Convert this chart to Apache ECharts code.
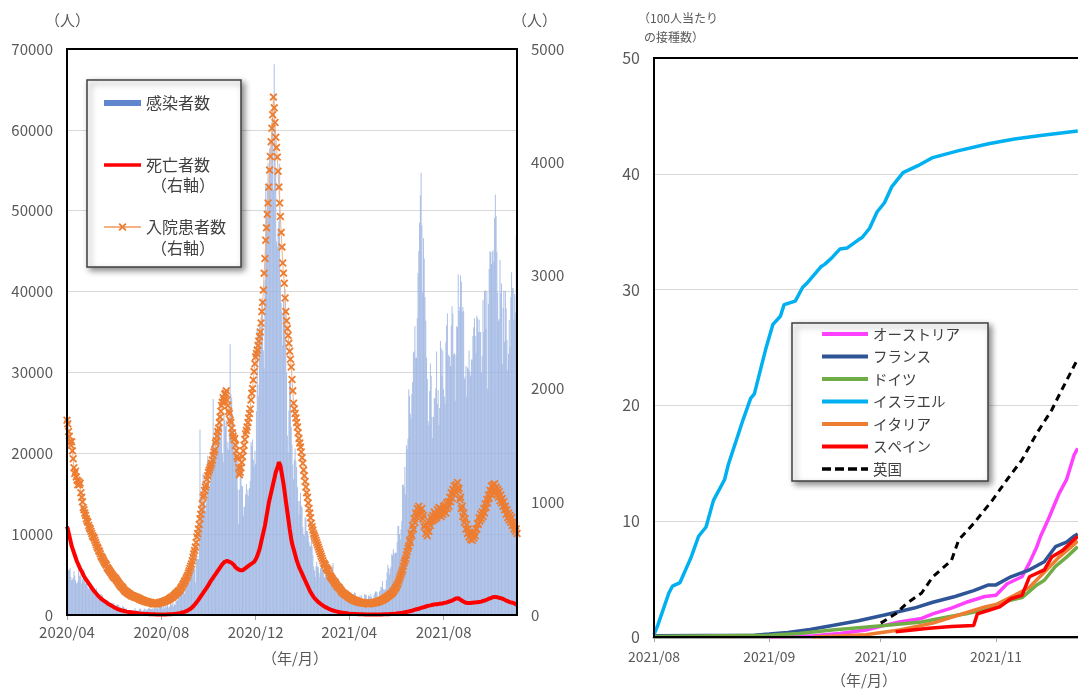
<!DOCTYPE html>
<html>
<head>
<meta charset="utf-8">
<script src="https://cdn.jsdelivr.net/npm/echarts@6/dist/echarts.min.js"></script>
<style>
  html, body { margin: 0; padding: 0; background: #ffffff; }
  #chart { width: 1078px; height: 691px; }
</style>
</head>
<body>
<div id="chart"></div>
<script>
const FONT = '"Noto Sans CJK JP", "Noto Sans", sans-serif';

// ---- Left panel: daily figures starting 2020-04-15 ----
const dailyStart = '2020-04-15';
const dailyEnd = '2021-11-18';
const leftTickDates = ['2020-04-15', '2020-08-15', '2020-12-15', '2021-04-15', '2021-08-15'];

// 感染者数 (left axis)
const newCases = [
  4600,4600,5600,5500,5800,4700,4300,4400,4600,5400,4900,4300,3900,4000,4100,6000,
  4800,5000,4800,3900,4400,4400,5600,4600,3900,3900,3900,3400,3200,3400,3600,3500,3500,3100,2700,3000,2500,2600,3300,2900,2400,2000,2000,2000,2600,2400,2400,
  2000,1600,1900,1800,1800,1600,1300,1200,1400,1000,1300,1500,1400,1500,1100,1300,1100,1200,1300,1300,1200,1000,960,650,650,1100,1000,900,800,700,
  815,580,580,620,520,520,350,630,540,640,500,820,650,530,540,540,600,800,760,650,460,440,580,770,770,560,580,680,770,850,880,
  740,740,740,940,670,950,890,870,760,1060,700,1150,1440,1140,1080,1020,710,1090,810,1180,1040,1030,1290,850,1030,1040,1520,1280,1270,1720,1010,
  1300,1300,1700,1800,1800,2900,2500,2400,2700,3000,3500,3500,3300,2600,3100,3400,3400,4300,4400,3900,4400,4900,6200,6600,6900,6000,5700,4000,7100,7100,
  6900,6900,12900,22900,12600,14500,14200,17500,13900,15200,12900,13900,17200,19700,19000,15600,16200,18800,18800,21300,26700,21300,20500,23000,19800,20900,22900,24700,23100,24400,21900,
  23300,20000,18900,25000,24100,23300,24100,20600,21400,20400,22900,33500,27300,26800,24900,21400,20100,19600,22900,20300,19900,15500,11300,15500,18200,17600,16000,15900,12300,13400,
  13400,14900,16200,14900,15500,14700,15700,16600,21400,20900,21700,19200,18400,20300,18700,25200,35400,28500,27100,35900,33400,36800,39200,39000,32700,30500,41400,53100,50000,53300,55900,
  53300,57700,54900,58800,60900,62300,52600,68100,59900,54900,46200,45500,47500,48700,55800,41300,38600,37500,33400,38900,37900,40300,33600,30000,22200,20100,25300,28700,29100,23300,21100,
  18600,16800,19200,20600,19100,18300,15800,14100,12400,14100,15100,13500,13300,10900,10000,9800,12100,12000,10400,10400,9800,9000,8500,8500,9900,8500,7400,6000,
  5500,4700,6000,6600,6000,5900,5200,4700,5800,6000,6500,5600,5500,4600,4800,5300,6400,6300,4800,5600,5300,5300,4900,6000,6400,4700,3900,4000,4700,4100,4400,
  4500,3400,3800,2300,2800,2400,2900,2800,3000,3200,1700,1900,2600,2500,2700,2600,2400,2000,2500,2600,2400,2800,2700,2000,1700,1900,2100,2200,2400,2000,
  2400,1600,1600,1900,2600,2500,2500,2000,1800,2400,2300,2300,2600,2200,2000,1900,2400,2700,2900,2900,2800,2000,2200,2900,3000,3500,3400,4200,3200,3200,3100,
  3200,4300,5300,6200,5800,5000,5700,6000,7500,7400,8100,7700,7500,7700,7700,9000,11000,11000,10000,9300,10600,11600,16100,16100,15800,18300,14900,21000,20500,21800,
  27900,27100,24900,24200,27300,28800,32500,32600,35700,31800,31800,36700,42300,45000,48500,51900,54700,48200,39900,46600,44100,39300,36400,31800,29200,24000,23500,27700,31100,29600,24500,
  21900,24500,26800,26800,28000,32600,26100,27800,23500,25600,33900,33000,29500,32700,27900,27000,26100,33700,35800,37300,32200,32100,31900,30800,35800,38200,37300,32200,32400,26500,32200,
  35700,35600,42100,37600,38100,42000,41200,37500,38100,37600,29200,29500,30800,27000,30600,30400,32700,30100,29600,31600,31600,34500,35600,36700,34500,32400,37000,36700,35000,36500,
  35000,35000,30000,32000,39000,35000,40000,40200,35400,40000,28000,38500,42800,45000,44900,43400,44900,45100,43700,49100,52000,49300,44900,39900,36400,36600,43900,39800,41000,31000,38000,
  40100,33800,40100,37900,34000,30300,32300,36500,33100,39300,42400,40400,40400,36500,39700,37400,46800,46200
];

// 死亡者数 (right axis)
const deaths = [
  780,760,730,700,670,640,610,590,575,550,530,510,490,470,455,440,
  425,410,400,385,370,355,345,330,320,310,300,290,280,270,260,250,240,230,220,212,205,195,188,180,172,165,158,150,145,140,135,
  130,125,120,115,110,105,100,96,92,88,84,80,76,72,68,64,60,57,54,51,48,46,44,42,40,38,36,35,33,32,
  30,29,28,27,26,25,24,23,22,21,20,19,18,17,16,15,14,13,12,12,11,11,10,10,9,9,8,8,8,7,7,
  7,7,6,6,6,6,5,5,5,5,5,5,5,5,5,5,5,5,5,5,5,6,6,6,6,7,7,7,8,8,8,
  10,10,11,12,13,14,15,16,18,20,22,24,26,28,30,33,36,40,44,48,52,57,62,68,75,82,90,98,107,116,
  125,135,145,155,165,175,185,195,205,215,225,235,245,255,265,278,290,300,310,320,330,340,350,360,370,380,390,400,410,420,430,
  440,450,460,465,470,472,475,478,470,465,470,472,468,460,450,445,440,430,420,415,410,405,400,398,395,400,398,395,400,405,
  410,415,420,425,430,435,440,445,450,455,460,465,470,480,490,505,520,540,560,580,610,640,670,700,730,760,790,830,870,910,950,
  990,1020,1050,1080,1110,1140,1170,1200,1230,1260,1280,1300,1320,1350,1340,1320,1280,1240,1200,1160,1110,1060,1010,960,910,860,810,760,715,670,635,
  610,585,560,535,510,485,465,445,425,410,395,380,365,350,335,320,305,290,275,260,245,230,215,200,190,180,170,160,
  150,142,135,128,121,115,109,103,98,93,88,83,79,75,71,67,64,60,57,54,51,48,45,42,40,38,36,34,32,30,28,
  26,25,24,23,22,21,20,19,18,17,16,15,14,13,12,11,10,10,9,9,9,8,8,8,7,7,7,7,6,6,
  6,6,6,5,5,5,5,5,5,5,5,5,5,5,5,5,5,5,5,5,5,5,5,5,5,5,5,6,6,6,6,
  6,6,7,7,7,8,8,9,9,10,10,11,11,12,13,14,15,15,16,17,18,19,20,21,22,24,25,27,28,30,
  31,33,33,36,37,41,42,45,46,47,51,52,55,55,59,60,63,63,67,68,71,71,75,76,77,81,82,85,85,89,90,
  90,92,91,94,93,96,95,98,97,100,99,102,101,104,105,107,106,110,111,114,115,119,120,123,125,129,131,135,138,143,146,
  148,150,148,145,140,135,130,126,122,118,114,110,108,106,105,104,104,105,106,107,108,109,110,110,111,112,112,113,114,115,
  115,117,118,121,122,126,128,131,132,136,138,142,144,148,150,153,155,158,158,161,158,158,156,156,154,153,150,149,146,144,140,
  137,135,130,128,124,121,117,116,113,112,110,109,106,105,100,98,93,90
];

// 入院患者数 (right axis)
const admissions = [
  1720,1690,1620,1580,1530,1500,1530,1450,1380,1300,1250,1270,1220,1190,1150,1180,
  1150,1165,1080,1040,1000,950,930,900,880,850,830,820,790,770,760,740,720,700,690,680,660,640,620,600,590,570,560,540,520,510,500,
  485,470,460,450,440,420,410,400,390,380,370,360,350,340,330,330,320,310,300,290,280,270,260,250,250,240,230,220,210,210,
  200,200,190,190,180,180,170,170,170,165,160,160,160,155,150,150,145,140,140,135,130,130,125,125,120,120,120,115,115,110,110,
  110,105,105,100,100,100,105,100,100,105,100,105,110,110,110,115,115,120,120,125,125,130,130,135,140,145,150,155,160,160,170,
  175,180,190,195,200,210,215,220,235,245,255,270,280,295,305,320,335,350,370,390,410,430,450,480,510,540,570,600,640,690,
  720,760,800,850,890,930,980,1040,1060,1100,1130,1150,1200,1230,1260,1280,1300,1320,1340,1370,1410,1440,1460,1520,1540,1580,1620,1650,1700,1750,1800,
  1850,1880,1920,1900,1950,1960,1980,1900,1850,1800,1780,1720,1700,1650,1610,1580,1550,1560,1500,1450,1400,1380,1300,1240,1260,1300,1350,1400,1450,1500,
  1550,1600,1630,1660,1700,1740,1780,1820,1900,1960,2000,2075,2150,2220,2280,2310,2340,2380,2420,2460,2500,2580,2680,2760,2870,3020,3150,3310,3420,3540,3640,
  3780,3930,4050,4180,4300,4420,4575,4480,4350,4220,4130,4045,3920,3780,3640,3520,3380,3250,3110,3020,2930,2800,2680,2600,2530,2470,2400,2330,2260,2190,2080,
  1980,1870,1820,1780,1740,1700,1660,1610,1560,1520,1485,1440,1390,1340,1280,1230,1180,1130,1080,1040,990,940,900,860,810,780,750,720,
  700,680,660,640,620,600,580,560,540,520,500,480,460,450,440,420,410,400,390,370,350,340,330,320,310,300,290,280,270,260,250,
  245,240,230,220,210,200,195,190,185,180,175,170,165,160,155,150,145,140,140,135,130,130,125,125,120,120,115,115,110,110,
  110,108,106,105,105,104,103,102,100,100,100,102,103,105,105,106,108,110,110,112,115,118,120,122,125,128,130,135,138,140,145,
  150,155,160,165,170,175,180,185,190,200,210,215,230,240,250,265,280,300,320,340,360,380,400,430,460,480,500,530,560,590,
  610,660,640,720,700,790,760,850,820,900,870,940,890,960,880,930,900,940,850,880,780,800,720,760,700,770,740,820,790,860,830,
  880,840,910,850,890,860,930,880,950,900,940,870,920,890,960,930,970,900,990,940,1000,960,1040,1000,1080,1030,1110,1070,1140,1090,1150,
  1110,1170,1100,1120,1020,1040,940,960,870,900,820,850,760,800,720,760,690,730,670,720,660,710,680,730,700,760,760,810,800,860,
  830,890,850,910,870,940,900,980,950,1020,990,1060,1030,1100,1070,1140,1090,1150,1100,1160,1080,1130,1060,1110,1040,1090,1010,1060,990,1030,960,
  1000,930,960,890,930,860,900,840,880,820,860,790,820,760,790,740,760,720
];

// ---- Right panel: booster doses per 100 people ----
const rightStart = '2021-08-01';
const rightEnd = '2021-12-31';
const rightTickDates = ['2021-08-01', '2021-09-01', '2021-10-01', '2021-11-01', '2021-12-01'];

const austria = [['2021-09-01',0],['2021-09-13',0.1],['2021-09-20',0.3],['2021-09-27',0.6],['2021-10-02',1.0],['2021-10-06',1.3],['2021-10-12',1.6],['2021-10-15',2.0],['2021-10-20',2.5],['2021-10-24',3.0],['2021-10-29',3.5],['2021-11-01',3.6],['2021-11-04',4.6],['2021-11-08',5.2],['2021-11-10',6.4],['2021-11-12',7.8],['2021-11-13',8.7],['2021-11-15',10.1],['2021-11-18',12.4],['2021-11-20',13.6],['2021-11-22',15.7],['2021-11-23',16.3]];
const france = [['2021-08-01',0.1],['2021-08-28',0.15],['2021-09-01',0.25],['2021-09-06',0.4],['2021-09-12',0.65],['2021-09-18',1.0],['2021-09-25',1.4],['2021-10-02',1.9],['2021-10-10',2.5],['2021-10-15',3.0],['2021-10-21',3.5],['2021-10-26',4.0],['2021-10-30',4.5],['2021-11-01',4.5],['2021-11-05',5.2],['2021-11-10',5.8],['2021-11-14',6.5],['2021-11-17',7.8],['2021-11-20',8.2],['2021-11-22',8.7],['2021-11-23',8.9]];
const germany = [['2021-08-01',0.05],['2021-09-01',0.15],['2021-09-09',0.3],['2021-09-18',0.6],['2021-10-02',1.0],['2021-10-12',1.3],['2021-10-20',1.8],['2021-10-24',2.0],['2021-10-31',2.5],['2021-11-04',3.1],['2021-11-08',3.4],['2021-11-12',4.5],['2021-11-14',4.9],['2021-11-17',6.1],['2021-11-20',6.9],['2021-11-22',7.5],['2021-11-23',7.8]];
const israel = [['2021-08-01',0.2],['2021-08-02',1.0],['2021-08-05',3.8],['2021-08-06',4.4],['2021-08-08',4.7],['2021-08-11',6.9],['2021-08-13',8.7],['2021-08-15',9.5],['2021-08-17',11.8],['2021-08-20',13.6],['2021-08-21',14.9],['2021-08-25',18.8],['2021-08-27',20.6],['2021-08-28',21.0],['2021-08-31',24.8],['2021-09-02',27.0],['2021-09-04',27.7],['2021-09-05',28.7],['2021-09-08',29.0],['2021-09-10',30.2],['2021-09-11',30.5],['2021-09-15',32.0],['2021-09-16',32.2],['2021-09-18',32.8],['2021-09-20',33.5],['2021-09-22',33.6],['2021-09-25',34.3],['2021-09-26',34.5],['2021-09-28',35.3],['2021-09-30',36.7],['2021-10-02',37.5],['2021-10-04',38.9],['2021-10-07',40.1],['2021-10-11',40.7],['2021-10-15',41.4],['2021-10-22',42.0],['2021-10-30',42.6],['2021-11-06',43.0],['2021-11-13',43.3],['2021-11-23',43.7]];
const italy = [['2021-09-13',0],['2021-09-27',0.2],['2021-10-06',0.6],['2021-10-15',1.2],['2021-10-22',1.9],['2021-10-29',2.6],['2021-11-01',2.8],['2021-11-06',3.6],['2021-11-10',4.3],['2021-11-14',5.6],['2021-11-18',6.9],['2021-11-22',8.0],['2021-11-23',8.3]];
const spain = [['2021-10-05',0.45],['2021-10-14',0.75],['2021-10-20',0.9],['2021-10-26',1.0],['2021-10-27',2.0],['2021-10-29',2.2],['2021-11-02',2.6],['2021-11-05',3.3],['2021-11-08',3.6],['2021-11-10',5.2],['2021-11-14',5.8],['2021-11-16',6.9],['2021-11-19',7.5],['2021-11-22',8.4],['2021-11-23',8.7]];
const uk = [['2021-10-01',1.2],['2021-10-05',2.0],['2021-10-08',2.9],['2021-10-12',3.8],['2021-10-15',5.2],['2021-10-20',6.6],['2021-10-22',8.4],['2021-10-26',9.8],['2021-10-31',11.8],['2021-11-04',13.6],['2021-11-08',15.3],['2021-11-12',17.6],['2021-11-16',19.6],['2021-11-18',20.9],['2021-11-22',23.4],['2021-11-23',24.0]];

// ---- helpers ----
function ts(s) {
  const p = s.split('-').map(Number);
  return new Date(p[0], p[1] - 1, p[2]).getTime();
}
function dailyPairs(values) {
  const p = dailyStart.split('-').map(Number);
  return values.map((v, i) => [new Date(p[0], p[1] - 1, p[2] + i).getTime(), v]);
}
function datedPairs(list) {
  return list.map(d => [ts(d[0]), d[1]]);
}
function ym(v) {
  const d = new Date(v);
  return d.getFullYear() + '/' + String(d.getMonth() + 1).padStart(2, '0');
}
const plain = v => String(v);

const GRAY = '#595959';
const TEXT = '#404040';
const crossSymbol = 'path://M0,1.6 L1.6,0 L5,3.4 L8.4,0 L10,1.6 L6.6,5 L10,8.4 L8.4,10 L5,6.6 L1.6,10 L0,8.4 L3.4,5 Z';
// legend swatches: solid bar, solid line, dashed line
const barIcon = 'path://M0,0 L37,0 L37,6 L0,6 Z';
const lineIcon = 'path://M0,0 L46,0 L46,4 L0,4 Z';
const redLineIcon = 'path://M0,0 L37,0 L37,3.5 L0,3.5 Z';
const dashIcon = 'path://M0,0 L9,0 L9,3.5 L0,3.5 Z M13,0 L22,0 L22,3.5 L13,3.5 Z M26,0 L35,0 L35,3.5 L26,3.5 Z M39,0 L46,0 L46,3.5 L39,3.5 Z';

const chart = echarts.init(document.getElementById('chart'), null, { renderer: 'canvas' });

const legendBox = {
  orient: 'vertical',
  backgroundColor: '#ffffff',
  borderColor: '#404040',
  borderWidth: 1.5,
  borderRadius: 0,
  shadowBlur: 6,
  shadowColor: 'rgba(0,0,0,0.45)',
  shadowOffsetX: 3,
  shadowOffsetY: 3,
  selectedMode: false
};

const option = {
  animation: false,
  backgroundColor: '#ffffff',
  textStyle: { fontFamily: FONT },
  grid: [
    { left: 67, top: 49, width: 450, height: 566, outerBoundsMode: 'none', show: true, borderColor: '#000000', borderWidth: 2, backgroundColor: 'transparent', z: 5 },
    { left: 654, top: 58, width: 565, height: 579, outerBoundsMode: 'none', show: true, borderColor: '#000000', borderWidth: 2, backgroundColor: 'transparent', z: 5 }
  ],
  xAxis: [
    {
      type: 'value', gridIndex: 0,
      min: ts(dailyStart), max: ts(dailyEnd),
      axisLine: { show: false },
      axisTick: { show: true, customValues: leftTickDates.map(ts), length: 5, lineStyle: { color: '#A6A6A6' } },
      axisLabel: { customValues: leftTickDates.map(ts), formatter: ym, color: GRAY, fontSize: 15, margin: 10, fontFamily: FONT },
      splitLine: { show: false }
    },
    {
      type: 'value', gridIndex: 1,
      min: ts(rightStart), max: ts(rightEnd),
      axisLine: { show: true, lineStyle: { color: '#A6A6A6', width: 3 } },
      axisTick: { show: true, customValues: rightTickDates.map(ts), length: 5, lineStyle: { color: '#A6A6A6' } },
      axisLabel: { customValues: rightTickDates.map(ts), formatter: ym, color: GRAY, fontSize: 14, margin: 13, fontFamily: FONT },
      splitLine: { show: false }
    }
  ],
  yAxis: [
    {
      type: 'value', gridIndex: 0, min: 0, max: 70000, interval: 10000,
      axisLine: { show: false }, axisTick: { show: false },
      axisLabel: { formatter: plain, color: GRAY, fontSize: 15, margin: 14, fontFamily: FONT },
      splitLine: { show: true, lineStyle: { color: '#D9D9D9', width: 1 } }
    },
    {
      type: 'value', gridIndex: 0, position: 'right', min: 0, max: 5000, interval: 1000,
      axisLine: { show: false }, axisTick: { show: false },
      axisLabel: { formatter: plain, color: GRAY, fontSize: 15, margin: 14, fontFamily: FONT },
      splitLine: { show: false }
    },
    {
      type: 'value', gridIndex: 1, min: 0, max: 50, interval: 10,
      axisLine: { show: false }, axisTick: { show: false },
      axisLabel: { formatter: plain, color: GRAY, fontSize: 16, margin: 14, fontFamily: FONT },
      splitLine: { show: true, lineStyle: { color: '#D9D9D9', width: 1 } }
    }
  ],
  legend: [
    Object.assign({}, legendBox, {
      left: 87, top: 80,
      itemWidth: 37, itemHeight: 10, itemGap: 40,
      padding: [12, 15, 29, 16],
      textStyle: { fontSize: 16, color: TEXT, lineHeight: 22, fontFamily: FONT },
      data: [
        { name: '感染者数', icon: barIcon, itemStyle: { color: '#4472C4' } },
        { name: '死亡者数', icon: redLineIcon, itemStyle: { color: '#FF0000' } },
        { name: '入院患者数' }
      ]
    }),
    Object.assign({}, legendBox, {
      left: 792, top: 323,
      itemWidth: 46, itemHeight: 10, itemGap: 2.5,
      padding: [1, 28, 2, 30],
      textStyle: { fontSize: 14.5, color: TEXT, lineHeight: 20, fontFamily: FONT },
      data: [
        { name: 'オーストリア', icon: lineIcon },
        { name: 'フランス', icon: lineIcon },
        { name: 'ドイツ', icon: lineIcon },
        { name: 'イスラエル', icon: lineIcon },
        { name: 'イタリア', icon: lineIcon },
        { name: 'スペイン', icon: lineIcon },
        { name: '英国', icon: dashIcon }
      ]
    })
  ],
  graphic: [
    { type: 'text', left: 45, top: 13, z: 100, style: { text: '（人）', fill: GRAY, font: '15px ' + FONT } },
    { type: 'text', left: 512, top: 13, z: 100, style: { text: '（人）', fill: GRAY, font: '15px ' + FONT } },
    { type: 'text', left: 262, top: 651, z: 100, style: { text: '（年/月）', fill: GRAY, font: '15px ' + FONT } },
    { type: 'text', left: 151, top: 177, z: 100, style: { text: '（右軸）', fill: TEXT, font: '16px ' + FONT } },
    { type: 'text', left: 151, top: 240, z: 100, style: { text: '（右軸）', fill: TEXT, font: '16px ' + FONT } },
    { type: 'text', left: 638, top: 12, z: 100, style: { text: '（100人当たり', fill: GRAY, font: '12px ' + FONT } },
    { type: 'text', left: 644, top: 31, z: 100, style: { text: 'の接種数）', fill: GRAY, font: '12px ' + FONT } },
    { type: 'text', left: 831, top: 673, z: 100, style: { text: '（年/月）', fill: GRAY, font: '15px ' + FONT } }
  ],
  series: [
    {
      name: '感染者数', type: 'bar', xAxisIndex: 0, yAxisIndex: 0,
      data: dailyPairs(newCases),
      barWidth: 1, barGap: '0%',
      itemStyle: { color: '#9DB5E2', opacity: 0.85 },
      z: 1
    },
    {
      name: '入院患者数', type: 'line', xAxisIndex: 0, yAxisIndex: 1,
      data: dailyPairs(admissions),
      symbol: crossSymbol, symbolSize: 8, showSymbol: true,
      itemStyle: { color: '#ED7D31' },
      lineStyle: { color: '#F4B183', width: 1 },
      z: 3
    },
    {
      name: '死亡者数', type: 'line', xAxisIndex: 0, yAxisIndex: 1,
      data: dailyPairs(deaths),
      symbol: 'none', showSymbol: false,
      itemStyle: { color: '#FF0000' },
      lineStyle: { color: '#FF0000', width: 4 },
      z: 4
    },
    { name: 'オーストリア', type: 'line', xAxisIndex: 1, yAxisIndex: 2, data: datedPairs(austria), symbol: 'none', itemStyle: { color: '#FF40FF' }, lineStyle: { color: '#FF40FF', width: 3.5 } },
    { name: 'フランス', type: 'line', xAxisIndex: 1, yAxisIndex: 2, data: datedPairs(france), symbol: 'none', itemStyle: { color: '#2F5597' }, lineStyle: { color: '#2F5597', width: 3.5 } },
    { name: 'ドイツ', type: 'line', xAxisIndex: 1, yAxisIndex: 2, data: datedPairs(germany), symbol: 'none', itemStyle: { color: '#70AD47' }, lineStyle: { color: '#70AD47', width: 3.5 } },
    { name: 'イスラエル', type: 'line', xAxisIndex: 1, yAxisIndex: 2, data: datedPairs(israel), symbol: 'none', itemStyle: { color: '#00B0F0' }, lineStyle: { color: '#00B0F0', width: 3.5 } },
    { name: 'イタリア', type: 'line', xAxisIndex: 1, yAxisIndex: 2, data: datedPairs(italy), symbol: 'none', itemStyle: { color: '#ED7D31' }, lineStyle: { color: '#ED7D31', width: 3.5 } },
    { name: 'スペイン', type: 'line', xAxisIndex: 1, yAxisIndex: 2, data: datedPairs(spain), symbol: 'none', itemStyle: { color: '#FF0000' }, lineStyle: { color: '#FF0000', width: 3.5 } },
    { name: '英国', type: 'line', xAxisIndex: 1, yAxisIndex: 2, data: datedPairs(uk), symbol: 'none', itemStyle: { color: '#000000' }, lineStyle: { color: '#000000', width: 3, type: [7, 5] } }
  ]
};

chart.setOption(option);
</script>
</body>
</html>
